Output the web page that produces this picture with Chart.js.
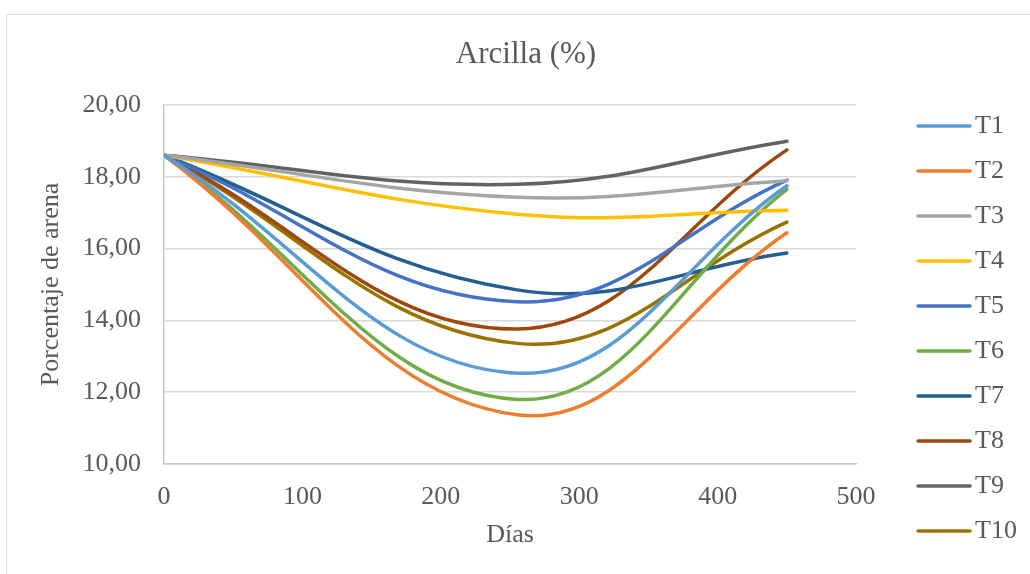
<!DOCTYPE html>
<html><head><meta charset="utf-8">
<script src="https://cdn.jsdelivr.net/npm/chart.js@4.4.1/dist/chart.umd.min.js"></script>
<style>
html,body{margin:0;padding:0;background:#fff;overflow:hidden;width:1030px;height:574px;}
#frame{position:absolute;left:6px;top:14px;width:1100px;height:700px;border:1px solid #d9d9d9;box-sizing:border-box;}
#c{position:absolute;left:0;top:0;}
</style></head><body>
<div id="frame"></div>
<canvas id="c" width="1030" height="574"></canvas>
<script>
// ---- data ----
const days = [0, 255, 450];
const seriesNames = ['T1','T2','T3','T4','T5','T6','T7','T8','T9','T10'];
const T1  = [18.60, 12.53, 17.75];
const T2  = [18.60, 11.37, 16.44];
const T3  = [18.60, 17.43, 17.89];
const T4  = [18.60, 16.96, 17.07];
const T5  = [18.60, 14.52, 17.91];
const T6  = [18.60, 11.80, 17.65];
const T7  = [18.60, 14.85, 15.88];
const T8  = [18.60, 13.76, 18.75];
const T9  = [18.60, 17.79, 18.99];
const T10 = [18.60, 13.36, 16.74];
const seriesValues = [T1,T2,T3,T4,T5,T6,T7,T8,T9,T10];
const colors = ['#5B9BD5','#ED7D31','#A5A5A5','#FFC000','#4472C4','#70AD47','#255E91','#9E480E','#636363','#997300'];
const yTicks = [10,12,14,16,18,20];
const xTicks = [0,100,200,300,400,500];

const FONT = "'Liberation Serif', 'Times New Roman', serif";
const TXT = '#595959';

function swatch(color){
  const c = document.createElement('canvas');
  c.width = 56; c.height = 6;
  const g = c.getContext('2d');
  g.strokeStyle = color; g.lineWidth = 3.5; g.lineCap = 'round';
  g.beginPath(); g.moveTo(2,3); g.lineTo(54,3); g.stroke();
  return c;
}

const datasets = seriesNames.map((name,i)=>({
  label: name,
  data: days.map((d,j)=>({x:d, y:seriesValues[i][j]})),
  borderColor: colors[i],
  backgroundColor: colors[i],
  borderWidth: 3.5,
  borderCapStyle: 'round',
  borderJoinStyle: 'round',
  tension: 0.4,
  pointRadius: 0,
  pointHoverRadius: 0,
  pointStyle: swatch(colors[i]),
  fill: false
}));

new Chart(document.getElementById('c'), {
  type: 'line',
  data: { datasets },
  options: {
    responsive: false,
    animation: false,
    devicePixelRatio: 1,
    events: [],
    layout: { padding: { left: 25, right: 3, top: 0, bottom: 11 } },
    plugins: {
      title: {
        display: true, text: 'Arcilla (%)', color: TXT,
        font: { family: FONT, size: 31, weight: 'normal', lineHeight: 1 },
        padding: { top: 39.5, bottom: 34.5 }
      },
      legend: {
        display: true, position: 'right', align: 'end',
        labels: {
          usePointStyle: true, pointStyleWidth: 36,
          padding: 19, color: TXT,
          font: { family: FONT, size: 26, lineHeight: 1 }
        }
      },
      tooltip: { enabled: false }
    },
    scales: {
      x: {
        type: 'linear', min: 0, max: 500,
        afterBuildTicks: s => { s.ticks = xTicks.map(v=>({value:v})); },
        afterFit: s => { s.height = 99; },
        ticks: { color: TXT, padding: 20, font: { family: FONT, size: 26, lineHeight: 1 }, callback: v => String(v) },
        grid: { display: false, drawTicks: false },
        border: { display: true, color: '#c8c8c8', width: 1.5 },
        title: { display: true, text: 'Días', color: TXT, font: { family: FONT, size: 26, lineHeight: 1 }, padding: { top: 0, bottom: 15 } }
      },
      y: {
        type: 'linear', min: 10, max: 20,
        afterBuildTicks: s => { s.ticks = yTicks.map(v=>({value:v})); },
        afterFit: s => { s.width = 139; },
        ticks: { color: TXT, padding: 23, font: { family: FONT, size: 26, lineHeight: 1 }, callback: v => Number(v).toFixed(2).replace('.', ',') },
        grid: { color: '#d9d9d9', lineWidth: 1.5, drawTicks: false },
        border: { display: true, color: '#c8c8c8', width: 1.5 },
        title: { display: true, text: 'Porcentaje de arena', color: TXT, font: { family: FONT, size: 26, lineHeight: 1 }, padding: { top: 13, bottom: 0 } }
      },
      y2: {
        type: 'linear', position: 'right', display: true,
        afterFit: s => { s.width = 51; },
        ticks: { display: false },
        grid: { display: false, drawTicks: false },
        border: { display: false }
      }
    }
  }
});
</script>
</body></html>
